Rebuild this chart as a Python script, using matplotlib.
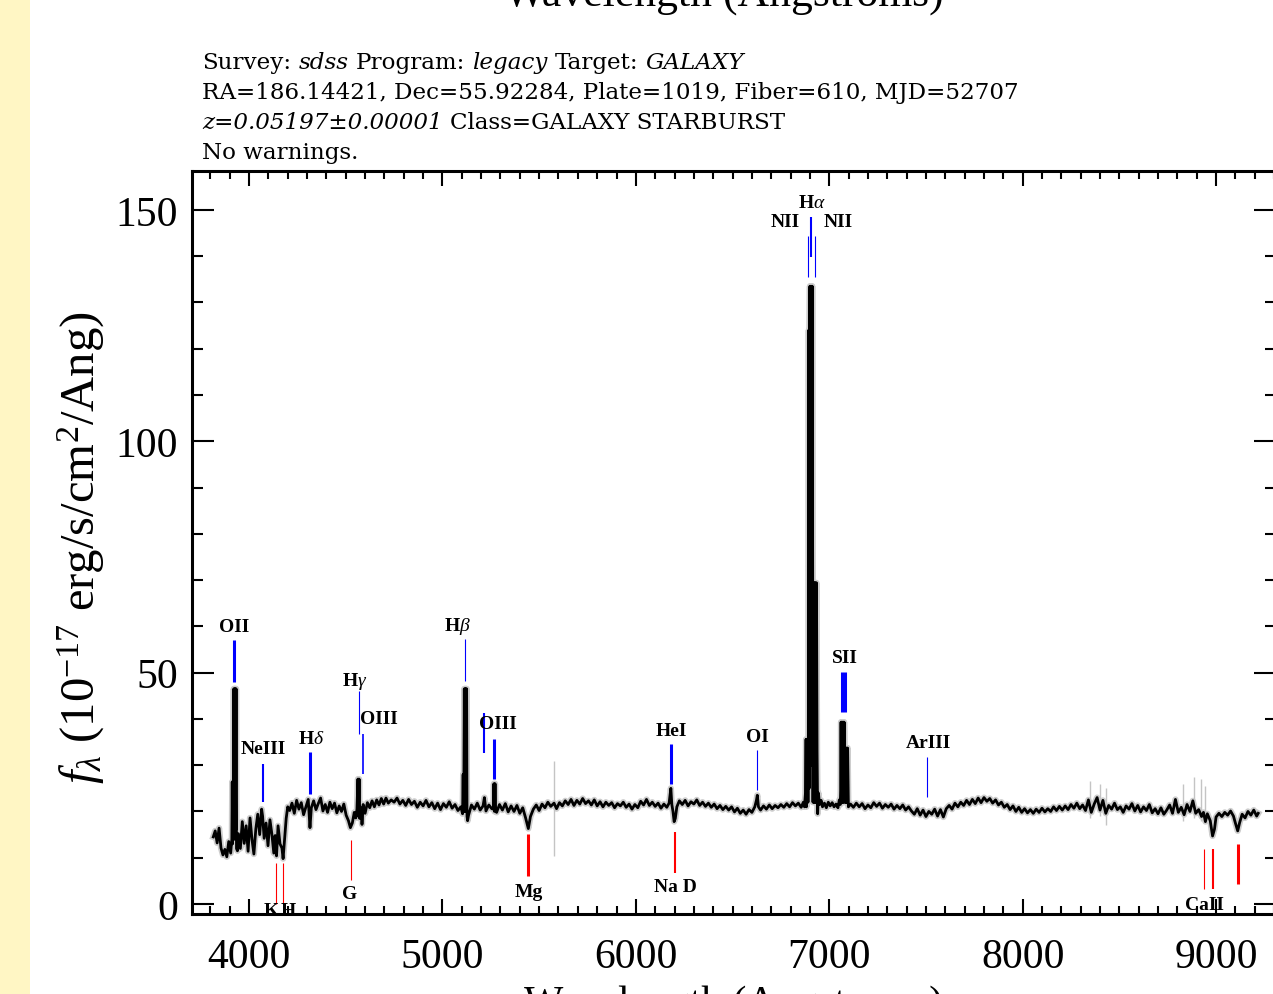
import matplotlib
matplotlib.use('Agg')
import matplotlib.pyplot as plt
from matplotlib.ticker import MultipleLocator
from matplotlib.patches import Rectangle

plt.rcParams['font.family'] = ['Liberation Serif', 'DejaVu Serif']
plt.rcParams['mathtext.fontset'] = 'custom'
plt.rcParams['mathtext.rm'] = 'Liberation Serif'
plt.rcParams['mathtext.it'] = 'Liberation Serif:italic'
plt.rcParams['mathtext.bf'] = 'Liberation Serif:bold'

# spectrum (observed wavelength in Angstroms, flux in 1e-17 erg/s/cm^2/Ang)
wave = [3815, 3825, 3835, 3845, 3855, 3865, 3875, 3885, 3895, 3905,
        3911, 3913, 3915, 3917, 3919, 3921, 3923, 3925, 3927, 3929,
        3931, 3933, 3935, 3940, 3945, 3955, 3965, 3975, 3985, 3995,
        4005, 4015, 4025, 4035, 4045, 4055, 4065, 4070, 4078, 4088,
        4098, 4108, 4118, 4128, 4135, 4142, 4150, 4160, 4170, 4176,
        4183, 4192, 4200, 4210, 4222, 4234, 4246, 4258, 4270, 4282,
        4294, 4306, 4315, 4322, 4334, 4346, 4358, 4370, 4382, 4394,
        4406, 4418, 4430, 4442, 4454, 4466, 4478, 4490, 4502, 4514,
        4524, 4534, 4544, 4552, 4558, 4563, 4566, 4569, 4572, 4575,
        4578, 4581, 4584, 4590, 4600, 4612, 4624, 4636, 4648, 4660,
        4672, 4684, 4696, 4708, 4720, 4735, 4750, 4765, 4780, 4795,
        4810, 4825, 4840, 4855, 4870, 4885, 4900, 4915, 4930, 4945,
        4960, 4975, 4990, 5005, 5020, 5035, 5050, 5065, 5080, 5095,
        5104, 5107, 5109, 5111, 5113, 5115, 5117, 5119, 5121, 5123,
        5125, 5127, 5130, 5135, 5150, 5165, 5180, 5195, 5210, 5217,
        5225, 5240, 5255, 5263, 5266, 5269, 5272, 5275, 5280, 5295,
        5310, 5325, 5340, 5355, 5370, 5385, 5400, 5415, 5430, 5444,
        5455, 5470, 5485, 5500, 5515, 5530, 5545, 5560, 5577, 5590,
        5605, 5620, 5635, 5650, 5665, 5680, 5695, 5710, 5725, 5740,
        5755, 5770, 5785, 5800, 5815, 5830, 5845, 5860, 5875, 5890,
        5905, 5920, 5935, 5950, 5965, 5980, 5995, 6010, 6025, 6040,
        6055, 6070, 6085, 6100, 6115, 6130, 6145, 6160, 6172, 6178,
        6181, 6186, 6192, 6198, 6204, 6212, 6225, 6240, 6255, 6270,
        6285, 6300, 6315, 6330, 6345, 6360, 6375, 6390, 6405, 6420,
        6435, 6450, 6465, 6480, 6495, 6510, 6525, 6540, 6555, 6570,
        6585, 6600, 6615, 6624, 6628, 6634, 6645, 6660, 6675, 6690,
        6705, 6720, 6735, 6750, 6765, 6780, 6795, 6810, 6825, 6840,
        6855, 6866, 6872, 6877, 6880, 6882, 6884, 6886, 6888, 6890,
        6892, 6894, 6896, 6898, 6900, 6902, 6904, 6906, 6908, 6910,
        6912, 6914, 6916, 6918, 6920, 6922, 6924, 6926, 6928, 6930,
        6932, 6934, 6937, 6940, 6944, 6950, 6958, 6965, 6975, 6985,
        6995, 7005, 7015, 7025, 7035, 7045, 7052, 7057, 7059, 7061,
        7063, 7065, 7067, 7069, 7071, 7073, 7075, 7077, 7079, 7081,
        7083, 7085, 7087, 7089, 7091, 7093, 7095, 7099, 7110, 7125,
        7140, 7155, 7170, 7185, 7200, 7215, 7230, 7245, 7260, 7275,
        7290, 7305, 7320, 7335, 7350, 7365, 7380, 7395, 7410, 7425,
        7440, 7455, 7470, 7485, 7500, 7515, 7530, 7545, 7560, 7575,
        7590, 7605, 7620, 7635, 7650, 7665, 7680, 7695, 7710, 7725,
        7740, 7755, 7770, 7785, 7800, 7815, 7830, 7845, 7860, 7875,
        7890, 7905, 7920, 7935, 7950, 7965, 7980, 7995, 8010, 8025,
        8040, 8055, 8070, 8085, 8100, 8115, 8130, 8145, 8160, 8175,
        8190, 8205, 8220, 8235, 8250, 8265, 8280, 8295, 8310, 8325,
        8340, 8355, 8370, 8385, 8400, 8415, 8430, 8445, 8460, 8475,
        8490, 8505, 8520, 8535, 8550, 8565, 8580, 8595, 8610, 8625,
        8640, 8655, 8670, 8685, 8700, 8715, 8730, 8745, 8760, 8775,
        8790, 8805, 8820, 8835, 8850, 8865, 8880, 8895, 8910, 8925,
        8935, 8945, 8955, 8970, 8982, 8992, 9000, 9015, 9030, 9045,
        9060, 9075, 9090, 9100, 9112, 9122, 9135, 9150, 9165, 9180,
        9195, 9210, 9218]
flux = [14.5, 15.8, 13.2, 16.4, 12.1, 10.6, 11.8, 10.2, 13.5, 11.0,
        14.0, 26.4, 13.0, 26.4, 14.0, 46.5, 14.0, 46.5, 15.0, 46.5,
        16.0, 46.5, 12.0, 11.5, 15.2, 12.0, 17.8, 13.1, 16.9, 11.4,
        18.6, 14.0, 10.8, 16.2, 19.4, 15.0, 20.5, 19.0, 14.2, 17.5,
        12.6, 18.2, 15.1, 11.0, 14.8, 10.4, 16.9, 13.0, 12.1, 9.8,
        13.6, 18.5, 21.0, 20.2, 21.8, 19.6, 22.4, 20.5, 21.9, 19.3,
        21.0, 22.6, 16.5, 20.8, 22.3, 20.4, 21.7, 22.9, 20.1, 21.5,
        19.8, 22.0, 20.6, 21.8, 19.7, 21.2, 20.0, 21.6, 19.2, 18.0,
        16.5, 17.5, 19.8, 18.6, 20.5, 27.0, 19.0, 27.0, 18.5, 21.0,
        19.0, 20.5, 17.2, 21.5, 19.6, 21.9, 20.8, 22.3, 21.0, 22.5,
        21.4, 22.8, 21.6, 22.9, 21.8, 22.5, 22.0, 22.9, 21.6, 22.4,
        21.3, 22.6, 21.5, 22.2, 20.9, 22.0, 21.2, 22.4, 21.0, 21.9,
        20.6, 21.8, 20.4, 21.7, 20.9, 22.1, 20.7, 21.5, 20.2, 21.0,
        19.5, 28.0, 20.0, 28.0, 46.5, 20.0, 46.5, 20.0, 46.5, 20.0,
        46.5, 19.0, 18.0, 19.2, 21.4, 20.5, 21.8, 20.3, 21.2, 23.0,
        20.1, 21.4, 20.6, 20.5, 26.0, 20.0, 26.0, 20.5, 19.8, 21.5,
        20.3, 21.7, 19.9, 21.2, 20.0, 21.3, 19.6, 20.8, 18.6, 16.3,
        18.9, 20.5, 21.4, 20.2, 21.6, 20.8, 22.0, 21.1, 21.8, 20.6,
        21.9, 21.2, 22.3, 21.5, 22.6, 21.3, 22.4, 21.6, 22.8, 21.7,
        22.3, 21.4, 22.5, 21.2, 22.1, 21.0, 22.0, 21.3, 21.9, 20.8,
        21.7, 21.2, 22.0, 20.9, 21.6, 20.5, 21.5, 20.8, 22.2, 21.4,
        22.6, 21.3, 22.0, 21.1, 21.8, 20.7, 21.6, 20.9, 21.8, 24.0,
        25.0, 21.5, 20.0, 17.8, 18.5, 21.0, 22.3, 21.5, 22.4, 21.2,
        22.1, 21.6, 22.5, 21.3, 22.0, 21.1, 21.8, 20.9, 21.6, 20.6,
        21.3, 20.4, 21.1, 20.3, 21.0, 19.9, 20.7, 19.6, 20.3, 19.4,
        20.4, 19.8, 21.0, 22.5, 23.5, 21.0, 20.3, 21.2, 20.5, 21.4,
        20.6, 21.3, 20.8, 21.5, 20.9, 21.7, 21.0, 21.9, 21.2, 21.8,
        20.9, 22.0, 21.0, 24.0, 35.6, 21.0, 35.6, 22.0, 35.6, 22.0,
        35.6, 124.0, 25.0, 124.0, 133.5, 30.0, 133.5, 30.0, 133.5, 30.0,
        133.5, 69.4, 22.0, 69.4, 22.0, 69.4, 22.0, 69.4, 22.0, 69.4,
        22.0, 69.4, 33.0, 19.5, 24.0, 21.5, 22.4, 21.0, 21.8, 20.8,
        22.0, 21.2, 21.9, 21.0, 21.6, 20.8, 22.5, 21.5, 24.6, 39.3,
        22.0, 39.3, 22.0, 39.3, 22.0, 39.3, 22.0, 39.3, 33.7, 22.0,
        33.7, 22.0, 33.7, 22.0, 33.7, 22.0, 33.7, 21.0, 21.6, 20.9,
        21.8, 21.0, 21.7, 20.6, 21.4, 20.8, 21.9, 21.1, 21.8, 20.7,
        21.5, 20.9, 21.6, 20.5, 21.3, 20.6, 21.4, 20.3, 21.0, 20.1,
        19.4, 20.6, 19.2, 20.3, 18.9, 20.0, 19.4, 20.5, 19.0, 20.4,
        18.8, 20.6, 21.3, 20.5, 21.8, 21.0, 22.0, 21.3, 22.4, 21.5,
        22.6, 21.7, 22.9, 21.9, 23.0, 22.2, 22.8, 21.8, 22.5, 21.4,
        22.0, 20.9, 21.5, 20.4, 21.2, 20.0, 20.9, 19.8, 20.6, 19.7,
        20.4, 19.6, 20.5, 19.8, 20.7, 19.9, 20.6, 20.0, 21.0, 20.2,
        21.1, 20.3, 21.2, 20.4, 21.5, 20.7, 21.8, 20.6, 21.4, 20.2,
        22.5, 19.8, 21.6, 23.0, 20.3, 22.4, 19.6, 21.3, 20.5, 21.8,
        20.4, 21.0, 19.8, 21.2, 20.5, 21.7, 20.1, 21.3, 19.9, 21.0,
        20.2, 21.5, 19.7, 20.6, 19.5, 20.8, 19.4, 20.3, 21.4, 19.6,
        22.6, 19.8, 20.9, 19.3, 21.5, 20.0, 22.3, 19.6, 20.4, 18.9,
        19.8, 17.8, 19.5, 18.0, 14.7, 16.2, 18.8, 19.6, 18.9, 19.8,
        19.2, 20.1, 19.0, 17.5, 15.8, 17.6, 19.4, 18.6, 20.0, 19.2,
        20.3, 19.0, 19.6]

# sky-line residuals seen only in the unsmoothed spectrum
sky_wave = [5579, 8346, 8399, 8430, 8828, 8886, 8920, 8944]
sky_lo = [10.4, 18.5, 19.0, 17.0, 18.0, 18.5, 18.0, 17.5]
sky_hi = [30.9, 26.5, 26.0, 25.0, 26.0, 27.5, 27.0, 25.5]

# emission lines (blue) and absorption lines (red), redshifted to z=0.05197
em_wave = [3921, 4070, 4315, 4567, 4590, 5115, 5217, 5267, 6181, 6628,
           6888, 6904, 6925, 7065, 7081, 7507]
ab_wave = [4138, 4176, 4528, 5444, 6200, 8940, 8986, 9112]

# marker extent (flux units) and line weight
em_span = [(48.0, 57.1), (22.0, 30.3), (23.8, 32.9), (36.7, 46.0), (28.1, 36.7), (48.2, 57.3),
           (32.6, 41.3), (27.0, 35.7), (25.9, 34.6), (24.6, 33.3), (135.5, 144.4), (139.8, 148.5),
           (135.5, 144.4), (41.5, 50.1), (41.5, 50.1), (23.1, 31.8)]
em_lw = [2.2, 1.5, 2.2, 0.8, 1.2, 0.8, 1.5, 2.2, 2.2, 0.8, 0.8, 1.5, 0.8, 2.2, 2.2, 0.8]
ab_span = [(0, 8.9), (0, 8.9), (5.2, 13.8), (6.1, 15.1), (6.7, 15.6), (3.2, 11.9), (3.2, 11.9), (4.3, 13.0)]
ab_lw = [0.8, 0.8, 0.8, 2.2, 1.5, 0.8, 1.5, 2.2]

em_labels = [('OII', 3922, 59.9), ('NeIII', 4072, 33.5), (r'H$\delta$', 4320, 35.7),
             (r'H$\gamma$', 4548, 48.4), ('OIII', 4672, 40.0), (r'H$\beta$', 5075, 60.1),
             ('OIII', 5287, 38.9), ('HeI', 6186, 37.6), ('OI', 6630, 36.3),
             ('NII', 6770, 147.4), (r'H$\alpha$', 6910, 151.5), ('NII', 7044, 147.4),
             ('SII', 7080, 53.2), ('ArIII', 7514, 34.8)]
ab_labels = [('K', 4114, -1.5), ('H', 4202, -1.5), ('G', 4522, 2.2), ('Mg', 5447, 2.8),
             ('Na D', 6207, 3.7), ('CaII', 8941, 0.0)]

W, H = 1273, 995
fig = plt.figure(figsize=(W / 100, H / 100), dpi=100)
fig.patches.append(Rectangle((0, 0), 30 / W, 1, transform=fig.transFigure,
                             facecolor='#fff6c4', edgecolor='none'))

ax = fig.add_axes([192 / W, 1 - 914.5 / H, (1276 - 192) / W, (914.5 - 172) / H])
ax.set_xlim(3705, 9310)
ax.set_ylim(-2.05, 158.4)

ax.plot(wave, flux, color='#cdcdcd', lw=4.5, zorder=1)
ax.vlines(sky_wave, sky_lo, sky_hi, color='#c4c4c4', lw=1.0, zorder=1)
ax.plot(wave, flux, color='black', lw=2.0, zorder=2)

for w, (lo, hi), lw in zip(em_wave, em_span, em_lw):
    ax.plot([w, w], [lo, hi], color='#0000ff', lw=lw, solid_capstyle='butt', zorder=3)
for w, (lo, hi), lw in zip(ab_wave, ab_span, ab_lw):
    ax.plot([w, w], [lo, hi], color='#ff0000', lw=lw, solid_capstyle='butt', zorder=3)
for txt, x, y in em_labels + ab_labels:
    ax.text(x, y, txt, ha='center', va='center', fontsize=14, fontweight='bold', clip_on=True)

ax.xaxis.set_major_locator(MultipleLocator(1000))
ax.xaxis.set_minor_locator(MultipleLocator(100))
ax.yaxis.set_major_locator(MultipleLocator(50))
ax.yaxis.set_minor_locator(MultipleLocator(10))
ax.tick_params(axis='x', which='both', direction='in', top=True, width=1.5, labelsize=30, pad=17)
ax.tick_params(axis='x', which='major', length=11)
ax.tick_params(axis='x', which='minor', length=5.5)
ax.tick_params(axis='y', which='both', direction='in', right=True, width=1.5, labelsize=30, pad=10)
ax.tick_params(axis='y', which='major', length=16)
ax.tick_params(axis='y', which='minor', length=8)
for s in ax.spines.values():
    s.set_linewidth(2.2)

ax.set_xlabel('Wavelength (Angstroms)', fontsize=30)
ax.xaxis.set_label_coords(0.5, -(985 - 914.5) / (914.5 - 172))
ax.xaxis.label.set_va('top')
fig.text(81 / W, 1 - 548 / H, r'$f_\lambda$ (10$^{-17}$ erg/s/cm$^2$/Ang)', rotation=90,
         ha='center', va='center', fontsize=35)

# title block of the previous panel, cut at the top edge
fig.text(724 / W, 1 - 6 / H, 'Wavelength (Angstroms)', ha='center', va='baseline', fontsize=31.5)

# header lines, drawn piece by piece so italic words sit inline
r = fig.canvas.get_renderer()
hdr = dict(fontfamily='DejaVu Serif', fontsize=16)


def width_px(s, **kw):
    t = fig.text(0, 0, s, **kw)
    w = t.get_window_extent(r).width
    t.remove()
    return w


hdr['fontsize'] = 16 * 816 / width_px('RA=186.14421, Dec=55.92284, Plate=1019, Fiber=610, MJD=52707', **hdr)
gap = width_px('x x', **hdr) - width_px('xx', **hdr)


def header_line(ypx, parts):
    x = 202
    for s, style in parts:
        t = fig.text(x / W, 1 - ypx / H, s, fontstyle=style, va='baseline', **hdr)
        x += t.get_window_extent(r).width + gap


header_line(69, [('Survey:', 'normal'), ('sdss', 'italic'), ('Program:', 'normal'),
                 ('legacy', 'italic'), ('Target:', 'normal'), ('GALAXY', 'italic')])
header_line(99, [('RA=186.14421, Dec=55.92284, Plate=1019, Fiber=610, MJD=52707', 'normal')])
header_line(129, [('z=0.05197\u00b10.00001', 'italic'), ('Class=GALAXY STARBURST', 'normal')])
header_line(159, [('No warnings.', 'normal')])

fig.savefig('out.png', dpi=100)
